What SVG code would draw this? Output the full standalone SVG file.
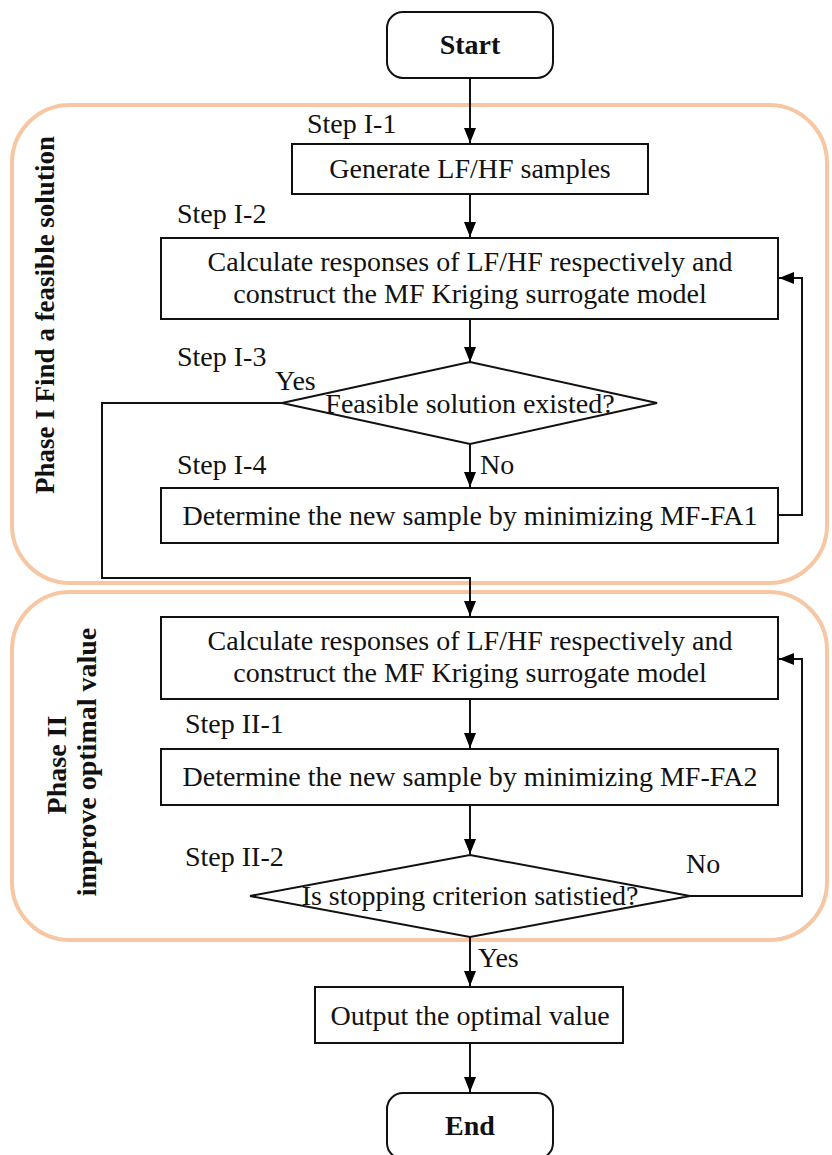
<svg xmlns="http://www.w3.org/2000/svg" width="832" height="1155" viewBox="0 0 832 1155">
<defs>
<marker id="ah" viewBox="0 0 15 12" refX="15" refY="6" markerWidth="15" markerHeight="12" markerUnits="userSpaceOnUse" orient="auto"><path d="M0,0 L15,6 L0,12 z" fill="#000"/></marker>
<style>
.t{font-family:'Liberation Serif','DejaVu Serif',serif;font-size:28px;fill:#111;}
.b{font-weight:bold;}
.n{fill:#fff;stroke:#111;stroke-width:2;}
.ph{fill:none;stroke:#F7C7A3;stroke-width:4;}
.c{fill:none;stroke:#111;stroke-width:2;}
</style>
</defs>
<rect width="832" height="1155" fill="#fff"/>
<g id="phase1">
<rect class="ph" x="12" y="105" width="815" height="478" rx="58"/>
<text class="t b" style="font-size:27px" transform="translate(54,315) rotate(-90)" text-anchor="middle">Phase I Find a feasible solution</text>
</g>
<g id="phase2">
<rect class="ph" x="12" y="592" width="815" height="348" rx="58"/>
<text class="t b" transform="translate(66,765) rotate(-90)" text-anchor="middle">Phase II</text>
<text class="t b" transform="translate(96,762) rotate(-90)" text-anchor="middle">improve optimal value</text>
</g>
<g id="connectors">
<path class="c" d="M470,78 V143" marker-end="url(#ah)"/>
<path class="c" d="M470,194 V237" marker-end="url(#ah)"/>
<path class="c" d="M470,319 V362" marker-end="url(#ah)"/>
<path class="c" d="M470,444 V487" marker-end="url(#ah)"/>
<path class="c" d="M282,403 H102 V578 H470 V616" marker-end="url(#ah)"/>
<path class="c" d="M778,515 H802 V278 H779" marker-end="url(#ah)"/>
<path class="c" d="M470,699 V748" marker-end="url(#ah)"/>
<path class="c" d="M470,805 V854" marker-end="url(#ah)"/>
<path class="c" d="M690,896 H802 V659 H779" marker-end="url(#ah)"/>
<path class="c" d="M470,937 V986" marker-end="url(#ah)"/>
<path class="c" d="M470,1043 V1092" marker-end="url(#ah)"/>
<text class="t" x="275" y="390">Yes</text>
<text class="t" x="480" y="474">No</text>
<text class="t" x="686" y="873">No</text>
<text class="t" x="478" y="967">Yes</text>
</g>
<g id="start">
<rect class="n" x="387" y="12" width="166" height="66" rx="16"/>
<text class="t b" x="470" y="54" text-anchor="middle">Start</text>
</g>
<g id="step-i-1">
<text class="t" x="307" y="133">Step I-1</text>
<rect class="n" x="292" y="144" width="356" height="50"/>
<text class="t" x="470" y="178" text-anchor="middle">Generate LF/HF samples</text>
</g>
<g id="step-i-2">
<text class="t" x="177" y="223">Step I-2</text>
<rect class="n" x="161" y="238" width="617" height="81"/>
<text class="t" x="470" y="271" text-anchor="middle">Calculate responses of LF/HF respectively and</text>
<text class="t" x="470" y="303" text-anchor="middle">construct the MF Kriging surrogate model</text>
</g>
<g id="step-i-3">
<text class="t" x="177" y="366">Step I-3</text>
<polygon class="n" points="470,362 657,403 470,444 282,403"/>
<text class="t" x="470" y="413" text-anchor="middle">Feasible solution existed?</text>
</g>
<g id="step-i-4">
<text class="t" x="177" y="474">Step I-4</text>
<rect class="n" x="161" y="488" width="617" height="55"/>
<text class="t" x="470" y="525" text-anchor="middle">Determine the new sample by minimizing MF-FA1</text>
</g>
<g id="calc2">
<rect class="n" x="161" y="617" width="617" height="82"/>
<text class="t" x="470" y="650" text-anchor="middle">Calculate responses of LF/HF respectively and</text>
<text class="t" x="470" y="682" text-anchor="middle">construct the MF Kriging surrogate model</text>
</g>
<g id="step-ii-1">
<text class="t" x="185" y="733">Step II-1</text>
<rect class="n" x="161" y="749" width="617" height="56"/>
<text class="t" x="470" y="786" text-anchor="middle">Determine the new sample by minimizing MF-FA2</text>
</g>
<g id="step-ii-2">
<text class="t" x="185" y="866">Step II-2</text>
<polygon class="n" points="470,855 690,896 470,937 250,896"/>
<text class="t" x="470" y="905" text-anchor="middle">Is stopping criterion satistied?</text>
</g>
<g id="output">
<rect class="n" x="315" y="987" width="308" height="56"/>
<text class="t" x="470" y="1025" text-anchor="middle">Output the optimal value</text>
</g>
<g id="end">
<rect class="n" x="387" y="1093" width="166" height="66" rx="16"/>
<text class="t b" x="470" y="1135" text-anchor="middle">End</text>
</g>
</svg>
